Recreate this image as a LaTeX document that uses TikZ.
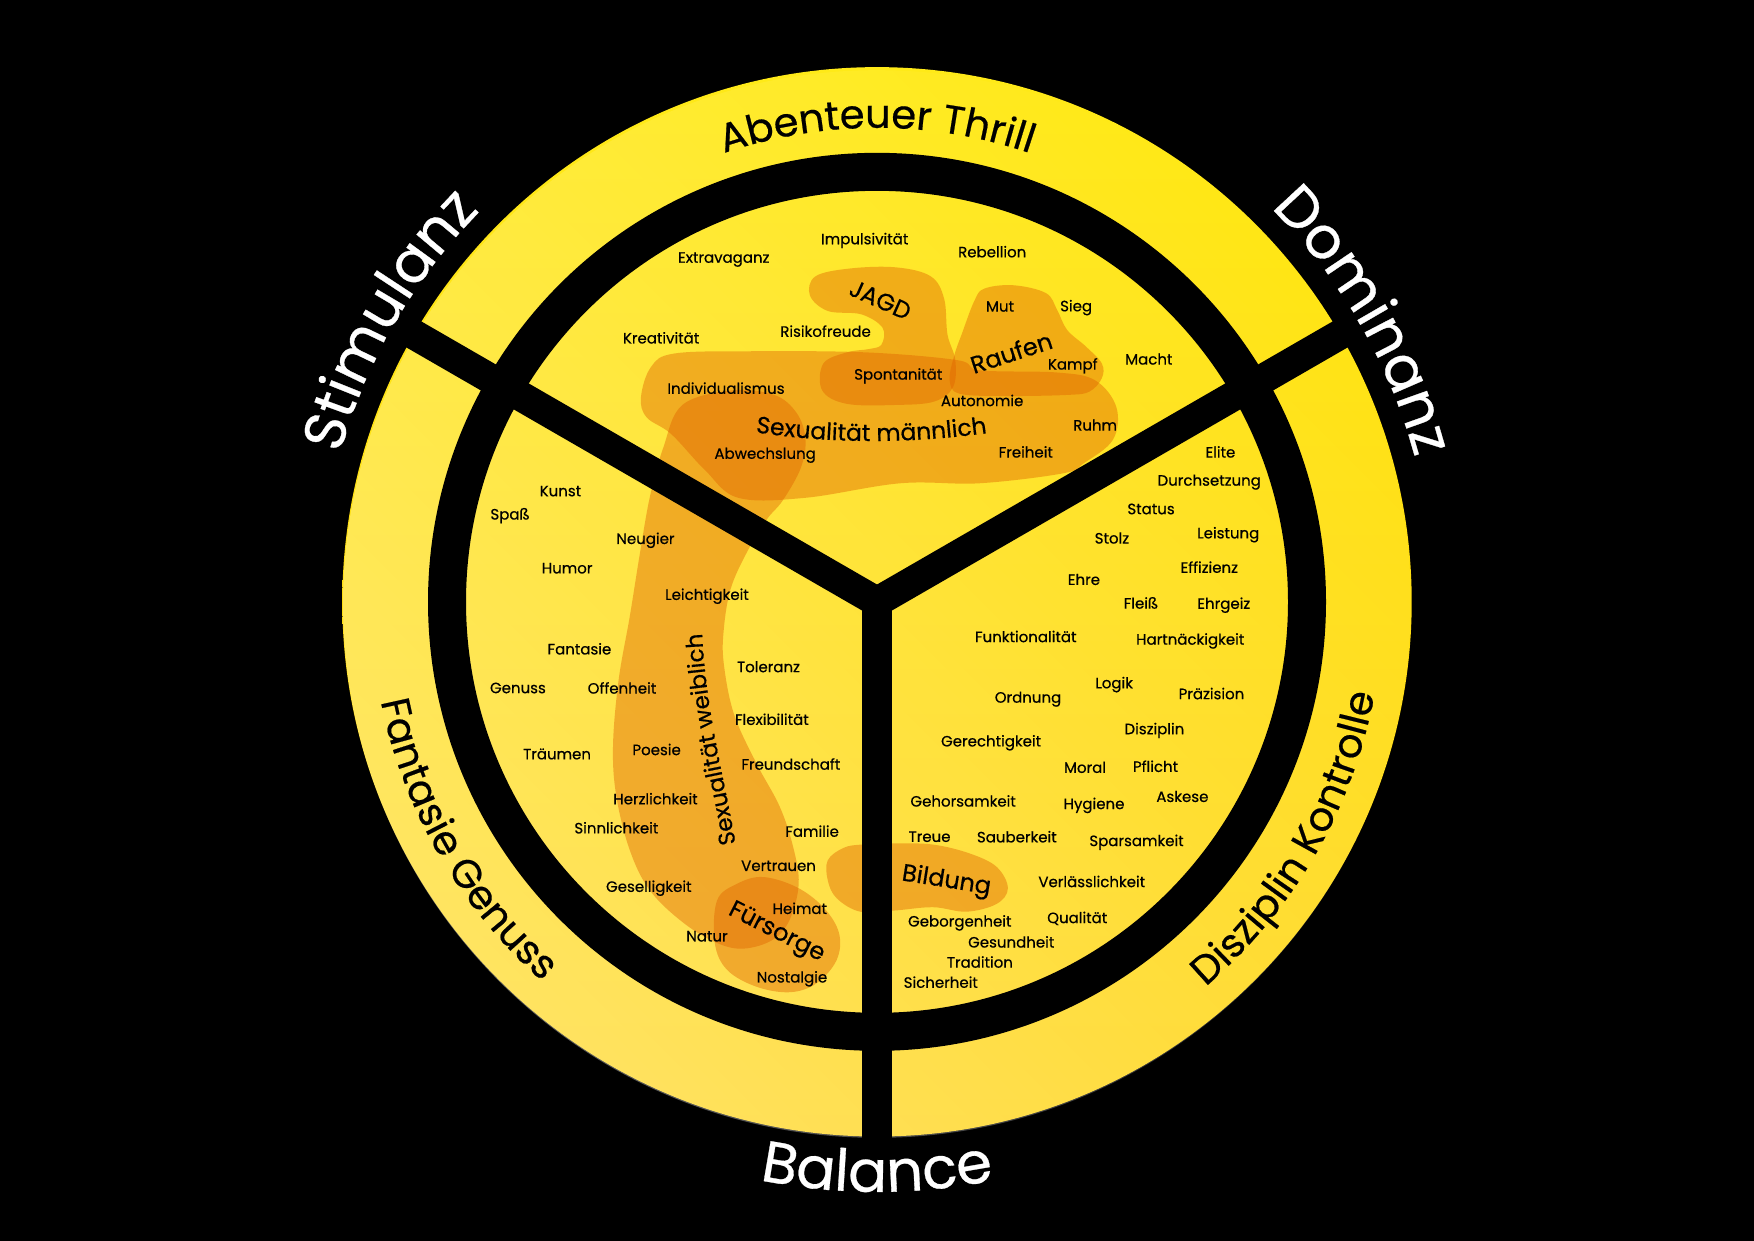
\documentclass[tikz,border=0pt]{standalone}
\usepackage{fontspec}
\setmainfont{Poppins}[RawFeature={embolden=0.5}]
\usetikzlibrary{decorations.text, fadings}

\definecolor{blobor}{HTML}{E16400}
\definecolor{ylwTop}{RGB}{255,234,24}
\definecolor{ylwBot}{RGB}{255,210,10}
\tikzfading[name=paleside, left color=transparent!65, right color=transparent!100]
\newcommand\bandfont{\fontsize{40}{44}\selectfont}
\newcommand\rimfont{\fontsize{58}{62}\selectfont}

\begin{document}
\begin{tikzpicture}[x=1.1186pt, y=-1.1186pt,
  word/.style={font=\fontsize{15}{17}\selectfont, inner sep=0pt},
  bigword/.style={font=\fontsize{24}{26}\selectfont, inner sep=0pt},
  blob/.style={fill=blobor, fill opacity=0.44},
  spoke/.style={line width=30pt, black},
  ring/.style={line width=38pt, black}]
	\useasboundingbox (0,0) rectangle (1568,1109);
	\fill[black] (0,0) rectangle (1568,1109);
	\coordinate (ctr) at (784,538);

	% Disc, blobs, ring and spokes:
	\shade[top color=ylwTop, bottom color=ylwBot] (ctr) circle[radius=478];
	\fill[white, path fading=paleside, fading angle=45] (ctr) circle[radius=478];
	\fill[blob] plot[smooth cycle, tension=0.6] coordinates {(573,355) (582,328) (603,316) (671,314) (774,315) (856,322) (876,331) (945,333) (979,340) (998,364) (995,393) (969,414) (951,423) (876,432) (805,432) (720,445) (660,445) (630,420) (600,388) (578,373)};
	\fill[blob] plot[smooth cycle, tension=0.6] coordinates {(788,308) (789,293) (770,281) (740,278) (724,264) (729,247) (760,240) (801,239) (832,247) (844,267) (847,299) (854,322) (852,346) (835,359) (801,362) (757,361) (735,349) (736,325) (757,315) (777,312)};
	\fill[blob] plot[smooth cycle, tension=0.6] coordinates {(871,269) (880,258) (906,255) (935,262) (945,277) (954,295) (971,310) (985,325) (985,338) (974,350) (955,353) (900,354) (858,352) (849,340) (853,318) (860,298)};
	\fill[blob] plot[smooth cycle, tension=0.6] coordinates {(654,349) (692,353) (712,369) (720,392) (716,418) (700,447) (685,465) (667,495) (653,527) (647,563) (647,593) (656,638) (676,682) (697,721) (709,757) (714,790) (706,822) (691,840) (665,848) (641,843) (611,825) (581,796) (563,760) (551,712) (548,667) (553,608) (563,551) (572,495) (581,444) (593,400) (610,362)};
	\fill[blob] plot[smooth cycle, tension=0.6] coordinates {(641,805) (659,790) (682,784) (712,793) (736,811) (750,834) (748,858) (730,879) (706,887) (676,882) (650,867) (639,843)};
	\fill[blob] plot[smooth cycle, tension=0.6] coordinates {(740,769) (754,758) (770,755) (799,754) (834,755) (867,763) (891,775) (901,794) (891,808) (864,815) (834,811) (799,814) (769,815) (748,803) (740,787)};
	\draw[ring] (ctr) circle[radius=384.4];
	\draw[spoke] (ctr) -- ++(-150:520);
	\draw[spoke] (ctr) -- ++(-30:520);
	\draw[spoke] (ctr) -- ++(90:520);

	% Words, top:
	\node[word] (impuls) at (773,215) {Impulsivität};
	\node[word] (extrav) at (647,232) {Extravaganz};
	\node[word] (rebell) at (887,225) {Rebellion};
	\node[bigword, rotate=-24] (jagd) at (787,268) {JAGD};
	\node[word] (mut) at (894,274) {Mut};
	\node[word] (sieg) at (962,275) {Sieg};
	\node[word] (kreativ) at (591,302) {Kreativität};
	\node[word] (risiko) at (738,296) {Risikofreude};
	\node[bigword, rotate=18] (raufen) at (904,315) {Raufen};
	\node[word] (kampf) at (959,327) {Kampf};
	\node[word] (macht) at (1027,321) {Macht};
	\node[word] (spontan) at (803,336) {Spontanität};
	\node[word] (individ) at (649,347) {Individualismus};
	\node[word] (autonom) at (878,358) {Autonomie};
	\node[word] (ruhm) at (979,380) {Ruhm};
	\node[word] (abwechs) at (684,407) {Abwechslung};
	\node[word] (freiheit) at (917,404) {Freiheit};
	\path[decorate, decoration={text along path, text align=center,
	  text={|\fontsize{23.5}{25}\selectfont|Sexualität männlich}}]
	  (660,384) .. controls (740,398) and (820,397) .. (898,385);

	% Words, right:
	\node[word] (elite) at (1091,404) {Elite};
	\node[word] (durchs) at (1081,431) {Durchsetzung};
	\node[word] (status) at (1029,455) {Status};
	\node[word] (stolz) at (994,481) {Stolz};
	\node[word] (leistung) at (1098,478) {Leistung};
	\node[word] (effiz) at (1081,507) {Effizienz};
	\node[word] (ehre) at (969,518) {Ehre};
	\node[word] (fleiss) at (1020,539) {Fleiß};
	\node[word] (ehrgeiz) at (1094,541) {Ehrgeiz};
	\node[word] (funktion) at (917,569) {Funktionalität};
	\node[word] (hartn) at (1064,573) {Hartnäckigkeit};
	\node[word] (logik) at (996,612) {Logik};
	\node[word] (ordnung) at (919,625) {Ordnung};
	\node[word] (praez) at (1083,620) {Präzision};
	\node[word] (diszip) at (1032,653) {Disziplin};
	\node[word] (gerecht) at (886,664) {Gerechtigkeit};
	\node[word] (moral) at (970,686) {Moral};
	\node[word] (pflicht) at (1033,685) {Pflicht};
	\node[word] (gehors) at (861,716) {Gehorsamkeit};
	\node[word] (hygiene) at (978,720) {Hygiene};
	\node[word] (askese) at (1057,712) {Askese};
	\node[word] (treue) at (831,748) {Treue};
	\node[word] (sauber) at (909,748) {Sauberkeit};
	\node[word] (sparsam) at (1016,753) {Sparsamkeit};
	\node[bigword, rotate=-9] (bildung) at (846,788) {Bildung};
	\node[word] (verlass) at (976,788) {Verlässlichkeit};
	\node[word] (geborg) at (858,825) {Geborgenheit};
	\node[word] (qualit) at (963,821) {Qualität};
	\node[word] (gesund) at (904,842) {Gesundheit};
	\node[word] (tradit) at (876,860) {Tradition};
	\node[word] (sicher) at (841,878) {Sicherheit};

	% Words, left:
	\node[word] (kunst) at (501,439) {Kunst};
	\node[word] (spass) at (456,461) {Spaß};
	\node[word] (neugier) at (577,483) {Neugier};
	\node[word] (humor) at (507,508) {Humor};
	\node[word] (leicht) at (632,533) {Leichtigkeit};
	\node[word] (fantasie) at (518,580) {Fantasie};
	\node[word] (toleranz) at (687,596) {Toleranz};
	\node[word] (genuss) at (463,615) {Genuss};
	\node[word] (offen) at (556,615) {Offenheit};
	\node[word] (flexib) at (690,643) {Flexibilität};
	\node[word] (traeumen) at (498,674) {Träumen};
	\node[word] (poesie) at (587,670) {Poesie};
	\node[word] (freunds) at (707,683) {Freundschaft};
	\node[word] (herzl) at (586,714) {Herzlichkeit};
	\node[word] (sinnl) at (551,740) {Sinnlichkeit};
	\node[word] (familie) at (726,743) {Familie};
	\node[word] (vertrau) at (696,774) {Vertrauen};
	\node[word] (gesell) at (580,794) {Geselligkeit};
	\node[word] (heimat) at (715,812) {Heimat};
	\node[bigword, rotate=-27] (fuersorge) at (694,834) {Fürsorge};
	\node[word] (natur) at (632,837) {Natur};
	\node[word] (nostalg) at (708,875) {Nostalgie};
	\path[decorate, decoration={text along path, text align=center,
	  text={|\fontsize{23}{25}\selectfont|Sexualität weiblich}}]
	  (662,780) .. controls (650,700) and (627,630) .. (627,540);

	% Band and rim titles:
	\begin{scope}[shift={(ctr)}, x=1pt, y=1pt]
		\path[decorate, decoration={text along path, text align=center, text={|\bandfont|Abenteuer Thrill}}]
		  (130:474) arc[start angle=130, end angle=50, radius=474];
		\path[decorate, decoration={text along path, text align=center, text={|\bandfont|Fantasie Genuss}}]
		  (160:506) arc[start angle=160, end angle=260, radius=506];
		\path[decorate, decoration={text along path, text align=center, text={|\bandfont|Disziplin Kontrolle}}]
		  (-80:506) arc[start angle=-80, end angle=20, radius=506];
		\path[decorate, decoration={text along path, text align=center, text color=white, text={|\rimfont|Stimulanz}}]
		  (200:557) arc[start angle=200, end angle=100, radius=557];
		\path[decorate, decoration={text along path, text align=center, text color=white, text={|\rimfont|Dominanz}}]
		  (80:557) arc[start angle=80, end angle=-20, radius=557];
		\path[decorate, decoration={text along path, text align=center, text color=white, text={|\rimfont|Balance}}]
		  (240:590) arc[start angle=240, end angle=300, radius=590];
	\end{scope}
\end{tikzpicture}
\end{document}
